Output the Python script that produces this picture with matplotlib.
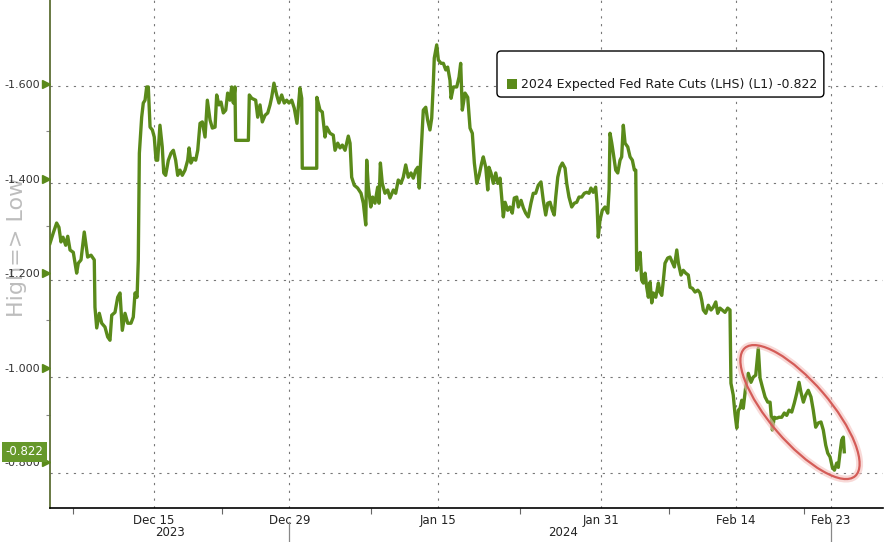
import numpy as np
import matplotlib
matplotlib.use("Agg")
import matplotlib.pyplot as plt
from matplotlib.patches import Ellipse, FancyBboxPatch, Rectangle
from matplotlib.transforms import ScaledTranslation, blended_transform_factory

# ---- data ----
BASE = "2023-12-04"   # x = business days since this date (weekends skipped)

t_bd = [
    1.32, 1.56, 1.81, 1.98, 2.13, 2.28, 2.48, 2.63, 2.80, 3.04,
    3.29, 3.41, 3.61, 3.85, 4.10, 4.35, 4.59, 4.64, 4.77, 4.96,
    5.14, 5.38, 5.58, 5.75, 5.88, 6.12, 6.32, 6.49, 6.66, 6.86,
    7.06, 7.30, 7.47, 7.60, 7.75, 7.84, 7.92, 8.09, 8.21, 8.34,
    8.46, 8.58, 8.71, 8.88, 9.02, 9.15, 9.27, 9.44, 9.61, 9.72,
    9.86, 10.06, 10.26, 10.43, 10.60, 10.75, 10.92, 11.09, 11.29, 11.49,
    11.59, 11.73, 11.90, 12.08, 12.23, 12.40, 12.57, 12.77, 12.94, 13.14,
    13.31, 13.51, 13.63, 13.80, 13.95, 14.12, 14.30, 14.44, 14.61, 14.74,
    14.86, 14.98, 15.03, 15.97, 16.04, 16.22, 16.51, 16.66, 16.83, 17.00,
    17.20, 17.40, 17.57, 17.69, 17.86, 18.06, 18.23, 18.43, 18.62, 18.80,
    18.97, 19.17, 19.36, 19.56, 19.78, 19.91, 19.95, 21.02, 21.03, 21.26,
    21.43, 21.63, 21.76, 22.00, 22.24, 22.37, 22.57, 22.74, 22.91, 23.11,
    23.35, 23.48, 23.60, 23.79, 24.04, 24.29, 24.46, 24.64, 24.71, 24.83,
    25.01, 25.15, 25.32, 25.52, 25.62, 25.72, 25.86, 26.06, 26.26, 26.43,
    26.68, 26.85, 27.04, 27.24, 27.41, 27.59, 27.78, 27.98, 28.15, 28.33,
    28.48, 28.59, 28.72, 28.89, 29.07, 29.21, 29.38, 29.51, 29.63, 29.70,
    29.88, 30.00, 30.20, 30.37, 30.55, 30.69, 30.86, 30.94, 31.11, 31.36,
    31.53, 31.65, 31.77, 31.97, 32.17, 32.34, 32.51, 32.66, 32.84, 33.01,
    33.20, 33.32, 33.50, 33.65, 33.74, 33.89, 34.06, 34.24, 34.39, 34.56,
    34.68, 34.80, 34.93, 35.12, 35.29, 35.46, 35.61, 35.79, 35.91, 36.11,
    36.28, 36.45, 36.64, 36.84, 37.01, 37.19, 37.38, 37.58, 37.75, 37.93,
    38.08, 38.25, 38.42, 38.56, 38.67, 38.82, 38.99, 39.16, 39.36, 39.48,
    39.65, 39.85, 40.04, 40.22, 40.39, 40.59, 40.78, 40.96, 41.13, 41.27,
    41.44, 41.62, 41.72, 41.81, 41.94, 42.11, 42.31, 42.51, 42.61, 42.68,
    42.81, 42.92, 43.10, 43.25, 43.42, 43.54, 43.66, 43.79, 43.99, 44.16,
    44.33, 44.48, 44.58, 44.65, 44.77, 44.90, 45.02, 45.14, 45.27, 45.39,
    45.51, 45.64, 45.76, 45.88, 46.06, 46.25, 46.37, 46.50, 46.62, 46.74,
    46.94, 47.11, 47.28, 47.43, 47.61, 47.73, 47.92, 48.09, 48.27, 48.46,
    48.59, 48.76, 48.96, 49.16, 49.33, 49.45, 49.57, 49.75, 49.94, 50.14,
    50.31, 50.49, 50.63, 50.80, 50.97, 51.17, 51.37, 51.54, 51.61, 51.78,
    51.91, 52.04, 52.16, 52.28, 52.41, 52.52, 52.70, 52.89, 53.09, 53.26,
    53.44, 53.63, 53.76, 53.93, 54.13, 54.33, 54.50, 54.67, 54.81, 54.99,
    55.16, 55.36, 55.55, 55.73, 55.90, 56.10, 56.29, 56.47, 56.64, 56.78,
    56.96, 57.13, 57.32, 57.52, 57.69, 57.87, 58.06, 58.26, 58.43, 58.61,
    58.76, 58.93, 59.10, 59.25, 59.42, 59.54, 59.67, 59.79, 59.91, 59.98,
]

cuts = [
    -1.263, -1.285, -1.306, -1.297, -1.266, -1.276, -1.259, -1.278, -1.249, -1.244,
    -1.200, -1.221, -1.228, -1.287, -1.234, -1.238, -1.228, -1.128, -1.084, -1.115,
    -1.094, -1.086, -1.065, -1.058, -1.111, -1.117, -1.149, -1.158, -1.079, -1.115,
    -1.094, -1.094, -1.107, -1.158, -1.149, -1.228, -1.454, -1.530, -1.560, -1.566,
    -1.594, -1.594, -1.509, -1.503, -1.488, -1.439, -1.439, -1.513, -1.467, -1.412,
    -1.407, -1.439, -1.454, -1.460, -1.439, -1.407, -1.418, -1.407, -1.418, -1.439,
    -1.465, -1.433, -1.443, -1.439, -1.460, -1.517, -1.520, -1.488, -1.566, -1.524,
    -1.507, -1.509, -1.577, -1.556, -1.562, -1.539, -1.545, -1.581, -1.566, -1.594,
    -1.560, -1.594, -1.481, -1.481, -1.577, -1.570, -1.566, -1.530, -1.556, -1.520,
    -1.534, -1.539, -1.556, -1.572, -1.602, -1.577, -1.560, -1.577, -1.560, -1.566,
    -1.560, -1.566, -1.549, -1.517, -1.592, -1.570, -1.422, -1.422, -1.572, -1.545,
    -1.541, -1.488, -1.509, -1.496, -1.492, -1.460, -1.475, -1.465, -1.471, -1.460,
    -1.490, -1.475, -1.403, -1.386, -1.380, -1.369, -1.348, -1.302, -1.439, -1.382,
    -1.340, -1.361, -1.348, -1.382, -1.348, -1.433, -1.390, -1.369, -1.376, -1.359,
    -1.376, -1.369, -1.397, -1.390, -1.403, -1.429, -1.403, -1.412, -1.401, -1.418,
    -1.424, -1.380, -1.450, -1.545, -1.551, -1.524, -1.503, -1.528, -1.602, -1.655,
    -1.683, -1.651, -1.644, -1.644, -1.630, -1.636, -1.608, -1.570, -1.594, -1.594,
    -1.615, -1.644, -1.545, -1.581, -1.572, -1.507, -1.496, -1.433, -1.390, -1.407,
    -1.433, -1.446, -1.424, -1.376, -1.424, -1.412, -1.390, -1.412, -1.390, -1.401,
    -1.361, -1.319, -1.350, -1.333, -1.340, -1.327, -1.359, -1.361, -1.340, -1.354,
    -1.338, -1.327, -1.319, -1.348, -1.369, -1.369, -1.386, -1.393, -1.354, -1.323,
    -1.348, -1.350, -1.333, -1.323, -1.361, -1.403, -1.424, -1.433, -1.422, -1.390,
    -1.361, -1.340, -1.348, -1.350, -1.361, -1.361, -1.369, -1.371, -1.369, -1.380,
    -1.371, -1.382, -1.348, -1.276, -1.312, -1.333, -1.340, -1.327, -1.376, -1.496,
    -1.475, -1.454, -1.418, -1.412, -1.439, -1.446, -1.513, -1.475, -1.467, -1.446,
    -1.439, -1.418, -1.418, -1.206, -1.228, -1.244, -1.185, -1.179, -1.200, -1.170,
    -1.149, -1.181, -1.137, -1.158, -1.149, -1.179, -1.160, -1.153, -1.185, -1.221,
    -1.232, -1.234, -1.223, -1.213, -1.249, -1.221, -1.196, -1.206, -1.200, -1.196,
    -1.170, -1.168, -1.160, -1.164, -1.158, -1.143, -1.122, -1.115, -1.132, -1.122,
    -1.128, -1.139, -1.115, -1.126, -1.122, -1.117, -1.126, -1.122, -0.967, -0.942,
    -0.902, -0.872, -0.910, -0.914, -0.931, -0.914, -0.959, -0.988, -0.969, -0.980,
    -0.984, -1.041, -0.978, -0.959, -0.938, -0.927, -0.927, -0.868, -0.895, -0.893,
    -0.895, -0.895, -0.904, -0.899, -0.910, -0.906, -0.925, -0.946, -0.969, -0.948,
    -0.927, -0.942, -0.952, -0.938, -0.910, -0.874, -0.883, -0.885, -0.868, -0.836,
    -0.819, -0.811, -0.789, -0.783, -0.798, -0.789, -0.821, -0.847, -0.853, -0.822,
]
assert len(t_bd) == len(cuts)

series_name = "2024 Expected Fed Rate Cuts (LHS) (L1)"
last_value = -0.822

major_dates = ["2023-12-15", "2023-12-29", "2024-01-15", "2024-01-31", "2024-02-14", "2024-02-23"]
major_labels = ["Dec 15", "Dec 29", "Jan 15", "Jan 31", "Feb 14", "Feb 23"]
minor_dates = ["2023-12-07", "2023-12-22", "2024-01-08", "2024-01-23", "2024-02-07", "2024-02-21"]
year_labels = ["2023", "2024"]
year_label_dates = ["2023-12-18", "2024-01-26"]
year_sep_dates = ["2023-12-29", "2024-02-23"]

y_major = [-1.6, -1.4, -1.2, -1.0, -0.8]
y_minor = [-1.5, -1.3, -1.1, -0.9]

GREEN = "#5a8a1a"
TAG_GREEN = "#66982a"


def bd(d):
    return np.busday_count(BASE, d)


fig = plt.figure(figsize=(8.85, 5.42), dpi=100)
ax = fig.add_axes([50 / 885, 34 / 542, 833 / 885, 508 / 542])

ax.plot(t_bd, cuts, color=GREEN, lw=2.4, solid_joinstyle="round", zorder=3)
ax.set_xlim(1.32, 62.84)
ax.set_ylim(-0.703, -1.778)   # High => Low: larger cuts at top

# x axis
ax.set_xticks([bd(d) for d in major_dates])
ax.set_xticklabels(major_labels)
ax.set_xticks([bd(d) for d in minor_dates], minor=True)
ax.tick_params(axis="x", which="major", length=0, pad=4, labelsize=8.5, labelcolor="#222222")
ax.tick_params(axis="x", which="minor", length=4, width=0.8, color="#666666", direction="out")

# y axis
ax.set_yticks(y_major)
ax.set_yticklabels([f"{v:.3f}" for v in y_major])
ax.set_yticks(y_minor, minor=True)
ax.tick_params(axis="y", which="major", length=0, pad=7, labelsize=8, labelcolor="#333333")
ax.tick_params(axis="y", which="minor", length=3, width=0.8, color="#888888", direction="out")

ytrans = blended_transform_factory(ax.transAxes, ax.transData)
ax.plot([-0.005] * len(y_major), y_major, ls="none", marker=">", ms=5.5,
        color=GREEN, transform=ytrans, clip_on=False, zorder=4)

for s in ["top", "right"]:
    ax.spines[s].set_visible(False)
ax.spines["left"].set_color("#5d6e35")
ax.spines["left"].set_linewidth(1.3)
ax.spines["bottom"].set_color("black")
ax.spines["bottom"].set_linewidth(1.2)

# dotted grid (horizontal grid in the source sits on a slightly stretched scale)
grid_kw = dict(color="#777777", lw=0.8, ls=(0, (2, 5)), zorder=1)
for v in y_major:
    ax.axhline(v * 1.0243 + 0.0432, **grid_kw)
for d in major_dates:
    ax.axvline(bd(d), **grid_kw)

# year labels and separators under the axis
xtrans = blended_transform_factory(ax.transData, ax.transAxes)
for lab, d in zip(year_labels, year_label_dates):
    ax.text(bd(d) + 0.2, -0.049, lab, transform=xtrans, ha="center", va="center",
            fontsize=8.5, color="#222222")
for d in year_sep_dates:
    ax.plot([bd(d), bd(d)], [-0.028, -0.07], color="#888888", lw=0.9,
            transform=xtrans, clip_on=False)

# axis title, sits behind the tick labels like in the source
ax.text(-0.0396, 0.514, "High=> Low", transform=ax.transAxes, rotation=90,
        ha="center", va="center", fontsize=16, color="#bdbdbd", zorder=0.5)

# legend box
box = FancyBboxPatch((0.5366, 0.809), 0.3924, 0.0906, transform=ax.transAxes,
                     boxstyle="round,pad=0,rounding_size=0.005", mutation_aspect=1.64,
                     fc="white", ec="black", lw=1.0, zorder=5)
ax.add_artist(box)
ax.add_artist(Rectangle((0.5486, 0.8248), 0.012, 0.0197, transform=ax.transAxes,
                        fc=GREEN, ec="none", zorder=6))
ax.text(0.5654, 0.8346, f"{series_name} {last_value:.3f}", transform=ax.transAxes,
        ha="left", va="center", fontsize=9, color="#1a1a1a", zorder=6)

# last value tag
ax.text(-0.031, last_value, f"{last_value:.3f}", transform=ytrans, ha="center", va="center",
        fontsize=8.5, color="white", clip_on=False, zorder=7,
        bbox=dict(boxstyle="square,pad=0.3", fc=TAG_GREEN, ec="none"))

# red ellipse highlighting the recent move
etrans = fig.dpi_scale_trans + ScaledTranslation(56.71, -0.906, ax.transData)
ax.add_artist(Ellipse((0, 0), 1.69, 0.60, angle=-49.3, transform=etrans,
                      fill=False, ec="#f4c0bd", lw=5, alpha=0.6, zorder=4))
ax.add_artist(Ellipse((0, 0), 1.69, 0.60, angle=-49.3, transform=etrans,
                      fill=False, ec="#d45c58", lw=1.6, zorder=4))

fig.savefig("out.png", dpi=100)
